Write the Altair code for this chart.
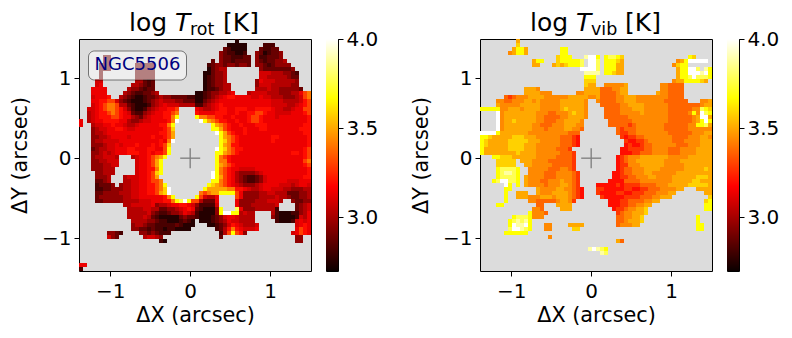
import altair as alt
import numpy as np
import pandas as pd

ROT_LEVELS = dict(a=2.75, b=2.82, c=2.88, d=2.96, e=3.03, f=3.09, g=3.14, h=3.2, i=3.30,
                  j=3.41, k=3.49, l=3.58, m=3.67, n=3.78, o=3.88, p=4.0)
VIB_LEVELS = dict(ROT_LEVELS, g=3.2, h=3.28, i=3.37, j=3.44, k=3.5, l=3.58)

ROT_NW = ["", "", "", "",
 "......cc", "......cc", ".....ccc......ccccc", ".....ccc......ccccc", ".....c........ccccc", ".....c........ccccc",
 "....ff........eecbc", "....fg.......eedcbc", "...gggg.....eddcbcc", "...gggg....edcbbccde",
 "...fgggh..edcbaabccdeddccccbb", "...gghhiifdcbaaabcdefeeeddccc", "...fghijjieecbaaabdefgfffeeee",
 "..ffghijjihfdbaabdefgghhi....", "..efghhijihgfcbbdefgghhij....", "..efghhhiihggedcefggghhjm....",
 "g.efgghhhhggeddeffgggghjp....", "g..effgghggfeefggggghhjm.....", "...deffgghhgffggggggghil.....",
 "...deefggggggggggggghhik.....", "...ddeefggggfggggghgghik.....", "...deeffffgggggggggghgjp.....",
 "...dddeffgfggghggghghil......", "...cdeeffggghhggghhggim......", "...ddefefggghhhgghghhim......"]
ROT_NE = ["..........a", "........aaaaa....bbb", ".......cbaaaa...cbbcc", "......dcbbaab..dcabccd",
 "......dccbbbcc.dbbcccd", "....c.dccbcccc.dcbccdde", "...bcddcddcddc.ddcbcdddd",
 "...acdee........dcccccccd", "..aacdde........fffeeeddcb", "..abcdde........ffeeeeedcc",
 "..abcdde.......dgfffeeeeed", "..abcddee......dfffeeeeedd", "..abbcdee......eeefeedddddc",
 "aabcddeefg...effffeeedddeegij", "aabcdefghhggggffgffeeedddefij", "aacdefgggggggggggggfffeeeefhi",
 "bbdefghggggggggggggffffeefghi", "gfeefghhgghhhgghhhhgffeefggii", "hgggghhhgghgghhiihggffffggghi",
 "mjjiihhgghggghiihgggfggggggghh", ".pmkjihhgghgghiihggggggggggghh", "....mkjihgghggghhhggggggggghh",
 "....mmkihggghggghhgggggggghhh", ".....pmkihgghgggggggggggggghh", "......mkjihgggggggghhgggggggh",
 "......mljihgggggggghggggggggh", "......mkjhhggggggggggggggggghi", ".....pmljihhggggggggggggggghi",
 ".....mmkjihggggggggggggghhghi"]
ROT_SW = ["...deefffe...efgghijkm", "...ddeefff....fgghikm", "...dddeeff....fgghikm", "...dddeee.....fgghhjm",
 "....ddeee.....fgghilm", "....ddde...efffgghik", "....ccde...eeffgghiij", "....bcccd.deeffgghhijm",
 "....bbccdddeeffgghhijlp", "....ccddddeeeffgghhiklp", "....cddddddeeffgggggghjm",
 "....ccdddddeeeefffggghhjmnpmi", "...........eefffffgdeefgghhgf", "............eeeeffeeccddefghg",
 "............eeeeefdcbbcddegfe", "............eeeefecbaaaaacdcc", ".............eeeeddcbbaaabcba",
 ".............deedccbbbbbcbaaa", ".............ddccbcbbabbaaaa", ".......ddcb....ddcdcbbb",
 ".......fdc......effed", "....................ba", "", "", "", "", "", "gg", "b"]
ROT_SE = [".....mjihgggggggggggggggggghih", ".....mjjhggggggggggggggggggij", ".....mkjihggggggggggggggggghi",
 ".....mjihggffffggggggggggggghi", "....pmjihgeddddefggggggggggghi", "....pmkihgedcbbcdfggggggggghh",
 "....mmjihgedcbbcdfgggggfffggg", "...mlkjihgfedddefggggfffefggf", "..mkkkkkjjhhgfeefggfffeedddee",
 ".jijkkmmmmigddddeeffeeecccdde", "mifeeg....igddddeeeefeedccdde", "iecccg....gddddeeefffe..dccdd",
 "dbbbbf....gdddeeeeeef....cdef", "cbaaadm...ngdddeeeeeb....cdef", "baaaadmppmmefee....ebaaabbdeg",
 "baaabcdfggfeeee....dbaaaabfeg", ".aaabcdegffeeee.....baaabfgfg", "...aabcdfhgfeeef.........fghg",
 ".....bcehjhgfffg.........gihg", "......beimihd...........fgihg", "......c..................dd",
 ".........................dd", "", "", "", "", "", "", ""]

VIB_NW = [".........k", ".........l", "........kmmk........mm", ".......jkmmk........mm",
 "...................lmmm...opp", ".............kmm...lmmmmmn.pp", ".............kk...klklmmmn.pp",
 ".........................pppp", "..........................ooo", "..........................mmm",
 "..........................lll", "..........................lkk", "...........kkkj...........kkk",
 "...........kkkkjjj......jjkkk", "......ihijjjkkkkjjjjjjkkkkkjj", "....jjiijjjkkjkjjjjjkkkkkkj",
 "....kjjjjjkkkkkjjjjjkkkkkkj", "mmmmmjjkkkjkkkkjjjjjklkkkkj", "....pjkkkkkkkkjjjiijjjklkkj",
 "....pjkkkkkkkkjjiiiijjkkkkj", "....pjkklkkkkkjjiiijjkkkkj", "....pjkkkkkkkjjiiijjjkkkjj",
 "....pjkkkkkkkjjjijjjjkkjji", "ppppmkkkkkkkjjjjjjjjjjiii", "mmlkkkkklllkkkjjjjjjiiihg",
 "mlkkkkklllllkkkjjjjjiiihg", "mlkkkkkllllkkkjjjjjjiiihg", "mkkkkkkllllkkkjjjjjiiih", "mkkkkkkkklkkkkjjjjjjiiih"]
VIB_NE = ["", "", "", "", "m.mnnml................ml", "n.mmmlk.............jkmppppp", "n.mmmkk............jlmm",
 "n.mmmkk.............kmmppn.om", "o.mmlkk.............kmmpppopm", "....................kmmnpnnnm",
 "...................jkkmmmmlk", "..jjjjjk........jjiiii", "kiiijjkk........jjiiii", "kiiiijkk.......kjjiiii",
 "kiiiijjkkkjjjjjjjjiiii", "jiiiijjkkkjjjjjjjiiiiii...jjk", ".iiiiijjkkkkjjjjjjiiiiiiiijkk",
 "..iiiijjjkkkjjjjjjiiiiiijjnml", "..iiiijjjjjkjjjjjjiiiiijmjpnm", "..iiiiiijjjjjjjjjjiiiiiijkppk",
 "...iiiiiijjjjjjjjjiiiiiijkmpm", "...iiiiihijjjjjjjiiiiiijjmmnk", ".....ihiiijjjjjjjiiiiiijjjjjj",
 ".....ihhiijjjjjjjjiiiiiijjjkk", "......hghhiijjjjjjjiiiijjjkkj", ".......hgghhijjjjjjiiijjjjkkk",
 ".......ghgghiijjjjjjiiijjjkkk", "......gghhhhiijjjjiiijjjjkkkk", "......ggghhiiijjjjiiijjjjkkkk"]
VIB_SW = ["...mmlllkkkkkkjjjjjiiiih", "....lllll.kkkjjjjiiiiiih", "....lllll..kkjjjjjiiiiih",
 "....mnnnnm..jjjjjiiijjih", "....mnoonm..jjjjiiijjjjih", "....mnnnnm.kjjjjiiijjjjih",
 "...mnppnnm.kjjjiijjjkjjih", "......pm.m.kjjjjijjjkkjih", "......mm......kjjjjkkjjihg",
 "......m..kkk..kjjjkkkkjihg", "......m..kkkjjjkkkjkkkjihg", "......m.....jjiiiiijkkjh",
 "....mm........ii...kkkk", ".............jji....kkk", "............mjjji",
 "........mnnnmjjj", ".......mnonom", ".......mpoopm...jj....kkkk", ".......npponm...jj.....ll",
 "......mmmmmm", ".................j", "", "", "...........................op", "", "", "", "", ""]
VIB_SE = [".....ghijjjkkkkkkkjjjjjkkkkkk", ".....ghijjkkkkkkkjjjjkkkkkkkk", ".....ghhjjjkkkkkkjjjjjkkkkkkk",
 ".....ghiijjjkkkkjjjjjjkkkkklk", "....gghiijjjkkjjjjjjkkkkkkkkk", "....gghhiijjjkkjjjjkkkkkklllk",
 "...ggggiiiijjjjjjjjkkkkkllkkk", "ggggghghhhhiiiijjjkkkkklllllkk", "hhggggghhgghhiiijjjjkk...kkkkk",
 "hgggghhgghhhiiijjjkk.......kkl", ".hggggghhhhiiijjkkk.........ll", "...ggghhiiiijjkk...........lm",
 "...ggghhiijjkk.............mm", "....ghhijjkkl..............mm", ".....hijjkkkl", ".....iijjkkl.............m",
 ".....iijkkkl.............m", ".....ijjjkk..............mm", ".........................mm", "", "",
 ".....ki", "", "onm", ".on", "", "", "", ""]

X0, Y0, CELL = -1.39, 1.49, 0.05

def cells(nw, ne, sw, se, levels):
    recs = []
    rows = [a.ljust(29, ".")[:29] + b.ljust(29, ".")[:29] for a, b in zip(nw, ne)] + \
           [a.ljust(29, ".")[:29] + b.ljust(29, ".")[:29] for a, b in zip(sw, se)]
    for r, row in enumerate(rows):
        for c, ch in enumerate(row):
            if ch != ".":
                recs.append(dict(x=X0 + c * CELL, x2=X0 + (c + 1) * CELL,
                                 y=Y0 - r * CELL, y2=Y0 - (r + 1) * CELL, v=levels[ch]))
    return pd.DataFrame(recs)

color_scale = alt.Scale(domain=[2.7, 3.1745, 3.67, 4.0],
                        range=["#0b0000", "#ff0000", "#ffff00", "#ffffff"], interpolate="rgb")
FONT = "DejaVu Sans"
one = alt.Data(values=[{"a": 1}])
xs = alt.Scale(domain=[-1.39, 1.51], nice=False, zero=False)
ys = alt.Scale(domain=[-1.41, 1.49], nice=False, zero=False)
common = dict(values=[-1, 0, 1], format="d", grid=False, tickSize=5, tickColor="black",
              labelFontSize=20, titleFontSize=20.8, labelFont=FONT, titleFont=FONT,
              titleFontWeight="normal", labelColor="black", titleColor="black",
              domain=False, labelFlush=False)
XE = alt.X("x:Q", scale=xs, title="ΔX (arcsec)", axis=alt.Axis(labelPadding=5, titlePadding=4, **common))
YE = alt.Y("y:Q", scale=ys, title="ΔY (arcsec)", axis=alt.Axis(labelPadding=3, titlePadding=11, **common))

def piece(text, x, y, size, style="normal"):
    return alt.Chart(one).mark_text(text=text, align="left", baseline="alphabetic", fontSize=size,
                                    fontStyle=style, font=FONT, color="black").encode(
        x=alt.value(x), y=alt.value(y))

def panel(df, title_parts, badge=False):
    heat = alt.Chart(df).mark_rect().encode(
        x=XE, x2="x2:Q", y=YE, y2="y2:Q",
        color=alt.Color("v:Q", scale=color_scale, legend=None),
    )
    cross_df = pd.DataFrame(dict(x=[-0.125, 0], x2=[0.125, 0], y=[0, -0.125], y2=[0, 0.125]))
    hline = alt.Chart(cross_df.iloc[[0]]).mark_rule(color="#808080", strokeWidth=1.5, opacity=0.9).encode(
        x=XE, x2="x2:Q", y=YE)
    vline = alt.Chart(cross_df.iloc[[1]]).mark_rule(color="#808080", strokeWidth=1.5, opacity=0.9).encode(
        x=XE, y=YE, y2="y2:Q")
    layers = [heat, hline, vline]
    if badge:
        layers.append(alt.Chart(one).mark_rect(fill="white", fillOpacity=0.5, stroke="black", strokeOpacity=0.5,
                                               strokeWidth=1, cornerRadius=6).encode(
            x=alt.value(9.5), x2=alt.value(107.5), y=alt.value(12), y2=alt.value(41)))
        layers.append(alt.Chart(one).mark_text(text="NGC5506", fontSize=18, font=FONT, color="#000080",
                                               align="center", baseline="middle").encode(
            x=alt.value(58.5), y=alt.value(25.5)))
    for p in title_parts:
        layers.append(piece(*p))
    return alt.layer(*layers).properties(
        width=232, height=232, view=alt.ViewConfig(fill="#dcdcdc", stroke="black", strokeWidth=1))

def colorbar():
    lo = 2.7 + np.arange(232) * 1.3 / 232
    bar = pd.DataFrame(dict(lo=lo, hi=lo + 1.3 / 232, v=lo + 0.65 / 232))
    return alt.Chart(bar).mark_rect().encode(
        y=alt.Y("lo:Q", scale=alt.Scale(domain=[2.7, 4.0], nice=False, zero=False), title=None,
                axis=alt.Axis(orient="right", values=[3.0, 3.5, 4.0], format=".1f", grid=False, tickSize=5,
                              tickColor="black", labelFontSize=20, labelFont=FONT, labelColor="black",
                              domain=False, labelPadding=3, labelFlush=False)),
        y2="hi:Q",
        color=alt.Color("v:Q", scale=color_scale, legend=None),
    ).properties(width=12, height=232, view=alt.ViewConfig(stroke="black", strokeWidth=1))

rot = cells(ROT_NW, ROT_NE, ROT_SW, ROT_SE, ROT_LEVELS)
vib = cells(VIB_NW, VIB_NE, VIB_SW, VIB_SE, VIB_LEVELS)

p1 = panel(rot, [("log", 50, -8, 25), ("T", 96, -8, 25, "italic"), ("rot", 111, -4, 17.5), ("[K]", 144, -8, 25)], badge=True)
p2 = panel(vib, [("log", 50, -8, 25), ("T", 96, -8, 25, "italic"), ("vib", 111, -4, 17.5), ("[K]", 145, -8, 25)])

spacer = alt.Chart(one).mark_text(text="", opacity=0).encode(x=alt.value(0), y=alt.value(0)).properties(
    width=112, height=232, view=alt.ViewConfig(stroke="transparent"))

chart = alt.hconcat(p1, colorbar(), spacer, p2, colorbar(), spacing=15, bounds="flush").properties(
    padding=dict(left=1, top=2, right=0, bottom=0), background="white")
chart.save("out.html", embed_options={"renderer": "svg", "actions": False})
